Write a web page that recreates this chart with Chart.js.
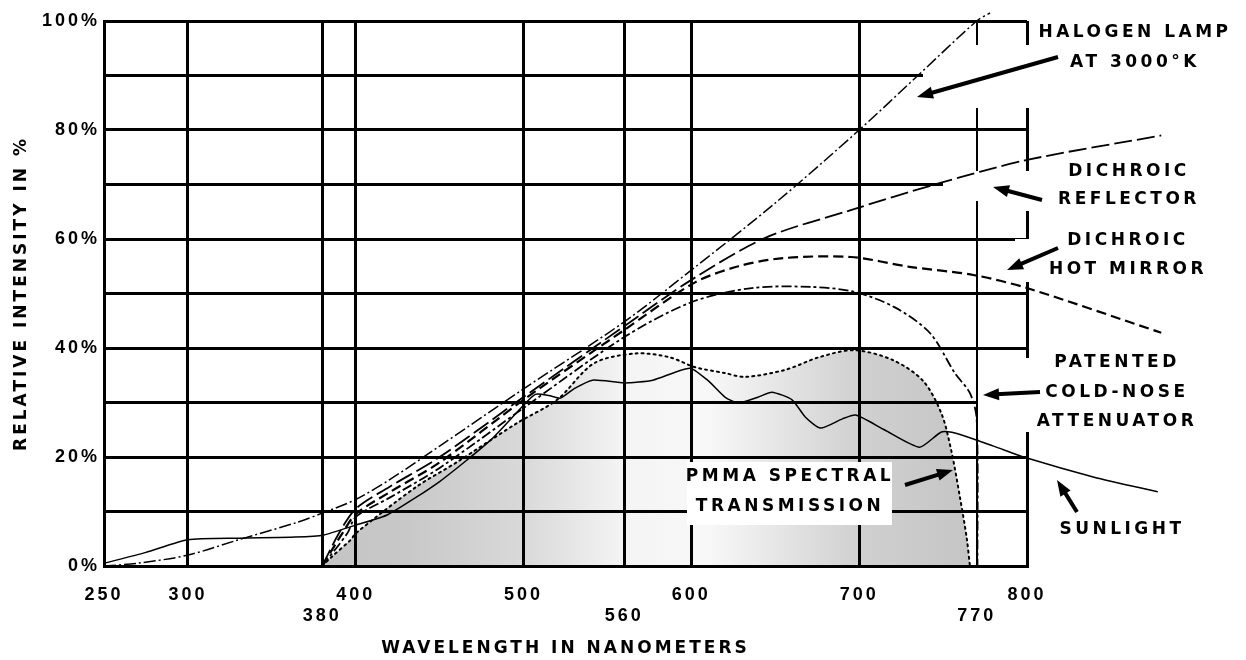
<!DOCTYPE html>
<html>
<head>
<meta charset="utf-8">
<title>Relative intensity vs wavelength</title>
<script src="https://cdn.jsdelivr.net/npm/chart.js@4.4.1/dist/chart.umd.min.js"></script>
<style>
  html, body { margin: 0; padding: 0; background: #fff; }
</style>
</head>
<body>
<canvas id="spectrumChart" width="1246" height="660"></canvas>
<script>
// tick values (nm and %)
const X_TICKS = [250, 300, 380, 400, 500, 560, 600, 700, 770, 800];
const LOW_TICKS = [380, 560, 770]; // printed on the second row
const Y_TICKS = [0, 10, 20, 30, 40, 50, 60, 70, 80, 90, 100];

// curves: wavelength (nm) / relative intensity (%)
const halogenNm  = [250, 270, 300, 330, 365, 380, 400, 420, 450, 500, 560, 600, 650, 700, 735, 770, 778];
const halogenPct = [0, 0.5, 2, 4.8, 8, 9.7, 12.2, 15.8, 22, 32.5, 44.8, 54.3, 66.6, 80, 90, 100, 101.5];

const reflectorNm  = [380, 390, 400, 420, 450, 500, 560, 600, 644, 695, 745, 800, 880];
const reflectorPct = [0, 6, 10.5, 14.5, 20, 31, 44, 52.5, 60.2, 65.3, 70, 74.5, 79];

const hotMirrorNm  = [380, 392, 400, 420, 450, 500, 560, 602, 628, 655, 695, 730, 768, 800, 880];
const hotMirrorPct = [0, 6, 9.5, 13.5, 19, 30.5, 43.3, 52, 55, 56.5, 56.7, 54.9, 53.4, 51, 42.8];

const coldNoseNm  = [380, 395, 400, 420, 450, 500, 560, 600, 636, 672, 697, 721, 742, 757, 766, 770, 770.5];
const coldNosePct = [0, 6, 9, 12.5, 18, 29, 42, 48.4, 51, 51.2, 50.3, 47.5, 42.8, 35.4, 31.7, 27, 0];

const sunlightNm  = [250, 275, 300, 331, 364, 381, 400, 419, 450, 480, 500, 507, 515, 522, 530, 541, 560, 577, 599,
                     610, 620, 628, 640, 648, 660, 668, 677, 690, 698, 715, 736, 749, 757, 780, 800, 840, 878];
const sunlightPct = [0.5, 2.5, 4.8, 5.1, 5.3, 5.7, 7.5, 9.4, 15.5, 23, 29.5, 31.5, 31.3, 30.8, 32.5, 34.1, 33.6, 34.1, 36.3,
                     34, 31, 29.9, 31, 31.9, 30.5, 27.3, 25.3, 27, 27.7, 25, 21.8, 24.6, 24.4, 22, 19.8, 16.3, 13.6];

const pmmaNm  = [380, 385, 397, 400, 436, 460, 496, 520, 542, 567, 587, 602, 620, 632, 656, 676, 697, 720, 738, 749, 755, 760, 764, 766];
const pmmaPct = [0, 1.5, 4.8, 6, 14.5, 19, 26.2, 30.5, 37.2, 39, 38.3, 36.5, 35.4, 34.7, 36, 38.3, 39.6, 37.8, 34, 28, 21, 12.7, 5.3, 0];

function pairs(xs, ys) {
  return xs.map((x, i) => ({x: x, y: ys[i]}));
}

// grey shading under the PMMA curve, light in the middle of the band
function pmmaFill(chart) {
  const area = chart.chartArea;
  const x = chart.scales.x;
  if (!area || !x) return '#cccccc';
  const x0 = x.getPixelForValue(380), x1 = x.getPixelForValue(770);
  const g = chart.ctx.createLinearGradient(x0, 0, x1, 0);
  const stops = [[380, '#c4c4c4'], [430, '#c8c8c8'], [500, '#d9d9d9'], [560, '#f4f4f4'],
                 [610, '#f8f8f8'], [660, '#e2e2e2'], [700, '#d0d0d0'], [770, '#c4c4c4']];
  stops.forEach(s => g.addColorStop((s[0] - 380) / 390, s[1]));
  return g;
}

const LABEL_FONT = 'bold 17px "DejaVu Sans"';

// white patches where the grid is interrupted round the notes (px)
const KNOCKOUTS = [
  [923, 45, 1036, 108],
  [943, 171, 1036, 201],
  [1015, 171, 1036, 211],
  [1015, 239, 1036, 282],
  [986, 358, 1036, 432],
  [978, 368, 1036, 406],
  [687, 462, 892, 525]
];

const NOTES = [
  {x: 1135, ys: [33, 63], lines: ['HALOGEN LAMP', 'AT 3000°K'], arrow: [1058, 57, 917, 97]},
  {x: 1129, ys: [172, 200], lines: ['DICHROIC', 'REFLECTOR'], arrow: [1042, 200, 993, 187]},
  {x: 1128, ys: [241, 270], lines: ['DICHROIC', 'HOT MIRROR'], arrow: [1058, 248, 1007, 270]},
  {x: 1117, ys: [363, 393, 422], lines: ['PATENTED', 'COLD-NOSE', 'ATTENUATOR'], arrow: [1040, 392, 983, 395]},
  {x: 1122, ys: [530], lines: ['SUNLIGHT'], arrow: [1077, 512, 1057, 480]},
  {x: 790, ys: [477, 507], lines: ['PMMA SPECTRAL', 'TRANSMISSION'], arrow: [905, 485, 953, 470]}
];

function drawArrow(ctx, x0, y0, x1, y1) {
  const a = Math.atan2(y1 - y0, x1 - x0);
  const len = 16, half = 6;
  const cos = Math.cos(a), sin = Math.sin(a);
  ctx.beginPath();
  ctx.moveTo(x0, y0);
  ctx.lineTo(x1 - len * 0.8 * cos, y1 - len * 0.8 * sin);
  ctx.stroke();
  ctx.beginPath();
  ctx.moveTo(x1, y1);
  ctx.lineTo(x1 - len * cos + half * sin, y1 - len * sin - half * cos);
  ctx.lineTo(x1 - len * cos - half * sin, y1 - len * sin + half * cos);
  ctx.closePath();
  ctx.fill();
}

const spacingPlugin = {
  id: 'spacing',
  beforeDraw(chart) {
    chart.ctx.letterSpacing = '3px';
  }
};

const notesPlugin = {
  id: 'notes',
  beforeDatasetsDraw(chart) {
    const ctx = chart.ctx;
    ctx.save();
    ctx.fillStyle = '#ffffff';
    KNOCKOUTS.forEach(k => ctx.fillRect(k[0], k[1], k[2] - k[0], k[3] - k[1]));
    ctx.restore();
  },
  afterDatasetsDraw(chart) {
    const ctx = chart.ctx;
    ctx.save();
    ctx.fillStyle = '#000';
    ctx.strokeStyle = '#000';
    ctx.lineWidth = 4;
    ctx.font = LABEL_FONT;
    ctx.letterSpacing = '3.5px';
    ctx.textAlign = 'center';
    ctx.textBaseline = 'middle';
    NOTES.forEach(n => {
      n.lines.forEach((t, i) => ctx.fillText(t, n.x, n.ys[i]));
      const a = n.arrow;
      drawArrow(ctx, a[0], a[1], a[2], a[3]);
    });
    ctx.restore();
  }
};

function curve(label, xs, ys, width, dash, tension) {
  return {
    label: label,
    data: pairs(xs, ys),
    borderColor: '#000',
    borderWidth: width,
    borderDash: dash,
    pointRadius: 0,
    tension: tension,
    fill: false,
    clip: false
  };
}

const pmmaSet = curve('PMMA spectral transmission', pmmaNm, pmmaPct, 2, [2, 4], 0.3);
pmmaSet.fill = 'origin';
pmmaSet.backgroundColor = c => pmmaFill(c.chart);
pmmaSet.borderCapStyle = 'round';

const tickFont = {family: 'Liberation Sans', size: 18, weight: 'bold'};
const titleFont = {family: 'DejaVu Sans', size: 17, weight: 'bold'};

const spectrumChart = new Chart(document.getElementById('spectrumChart'), {
  type: 'line',
  data: {
    datasets: [
      pmmaSet,
      curve('Halogen lamp at 3000°K', halogenNm, halogenPct, 1.5, [12, 3, 2, 3], 0.3),
      curve('Dichroic reflector', reflectorNm, reflectorPct, 1.8, [18, 5], 0.3),
      curve('Dichroic hot mirror', hotMirrorNm, hotMirrorPct, 2.2, [10, 5], 0.3),
      curve('Patented cold-nose attenuator', coldNoseNm, coldNosePct, 1.8, [10, 3, 3, 3], 0.3),
      curve('Sunlight', sunlightNm, sunlightPct, 1.5, [], 0.2)
    ]
  },
  options: {
    responsive: false,
    animation: false,
    events: [],
    layout: {padding: {top: 21, right: 219, bottom: 0, left: 0}},
    plugins: {
      legend: {display: false},
      tooltip: {enabled: false},
      filler: {drawTime: 'beforeDraw'}
    },
    scales: {
      x: {
        type: 'linear',
        bounds: 'data',
        afterDataLimits(s) { s.min = 250; s.max = 800; },
        afterBuildTicks(s) { s.ticks = X_TICKS.map(v => ({value: v})); },
        afterFit(s) { s.height = 94; },
        grid: {
          color: '#000',
          lineWidth: c => (c.tick && c.tick.value === 770 ? 2 : 3),
          drawTicks: false
        },
        border: {display: true, color: '#000', width: 3},
        ticks: {
          autoSkip: false,
          maxRotation: 0,
          padding: 18,
          color: '#000',
          font: tickFont,
          callback: v => (LOW_TICKS.includes(v) ? ['', String(v)] : String(v))
        },
        title: {
          display: true,
          text: 'WAVELENGTH IN NANOMETERS',
          color: '#000',
          font: titleFont,
          padding: {top: 0, bottom: 1}
        }
      },
      y: {
        type: 'linear',
        bounds: 'data',
        afterDataLimits(s) { s.min = 0; s.max = 100; },
        afterBuildTicks(s) { s.ticks = Y_TICKS.map(v => ({value: v})); },
        afterFit(s) { s.width = 104; },
        grid: {color: '#000', lineWidth: 3, drawTicks: false},
        border: {display: true, color: '#000', width: 3},
        ticks: {
          padding: 4,
          color: '#000',
          font: tickFont,
          callback: v => (v % 20 === 0 ? v + '%' : '')
        },
        title: {
          display: true,
          text: 'RELATIVE INTENSITY IN %',
          color: '#000',
          font: titleFont,
          padding: {top: 11, bottom: 0}
        }
      }
    }
  },
  plugins: [spacingPlugin, notesPlugin]
});
</script>
</body>
</html>
